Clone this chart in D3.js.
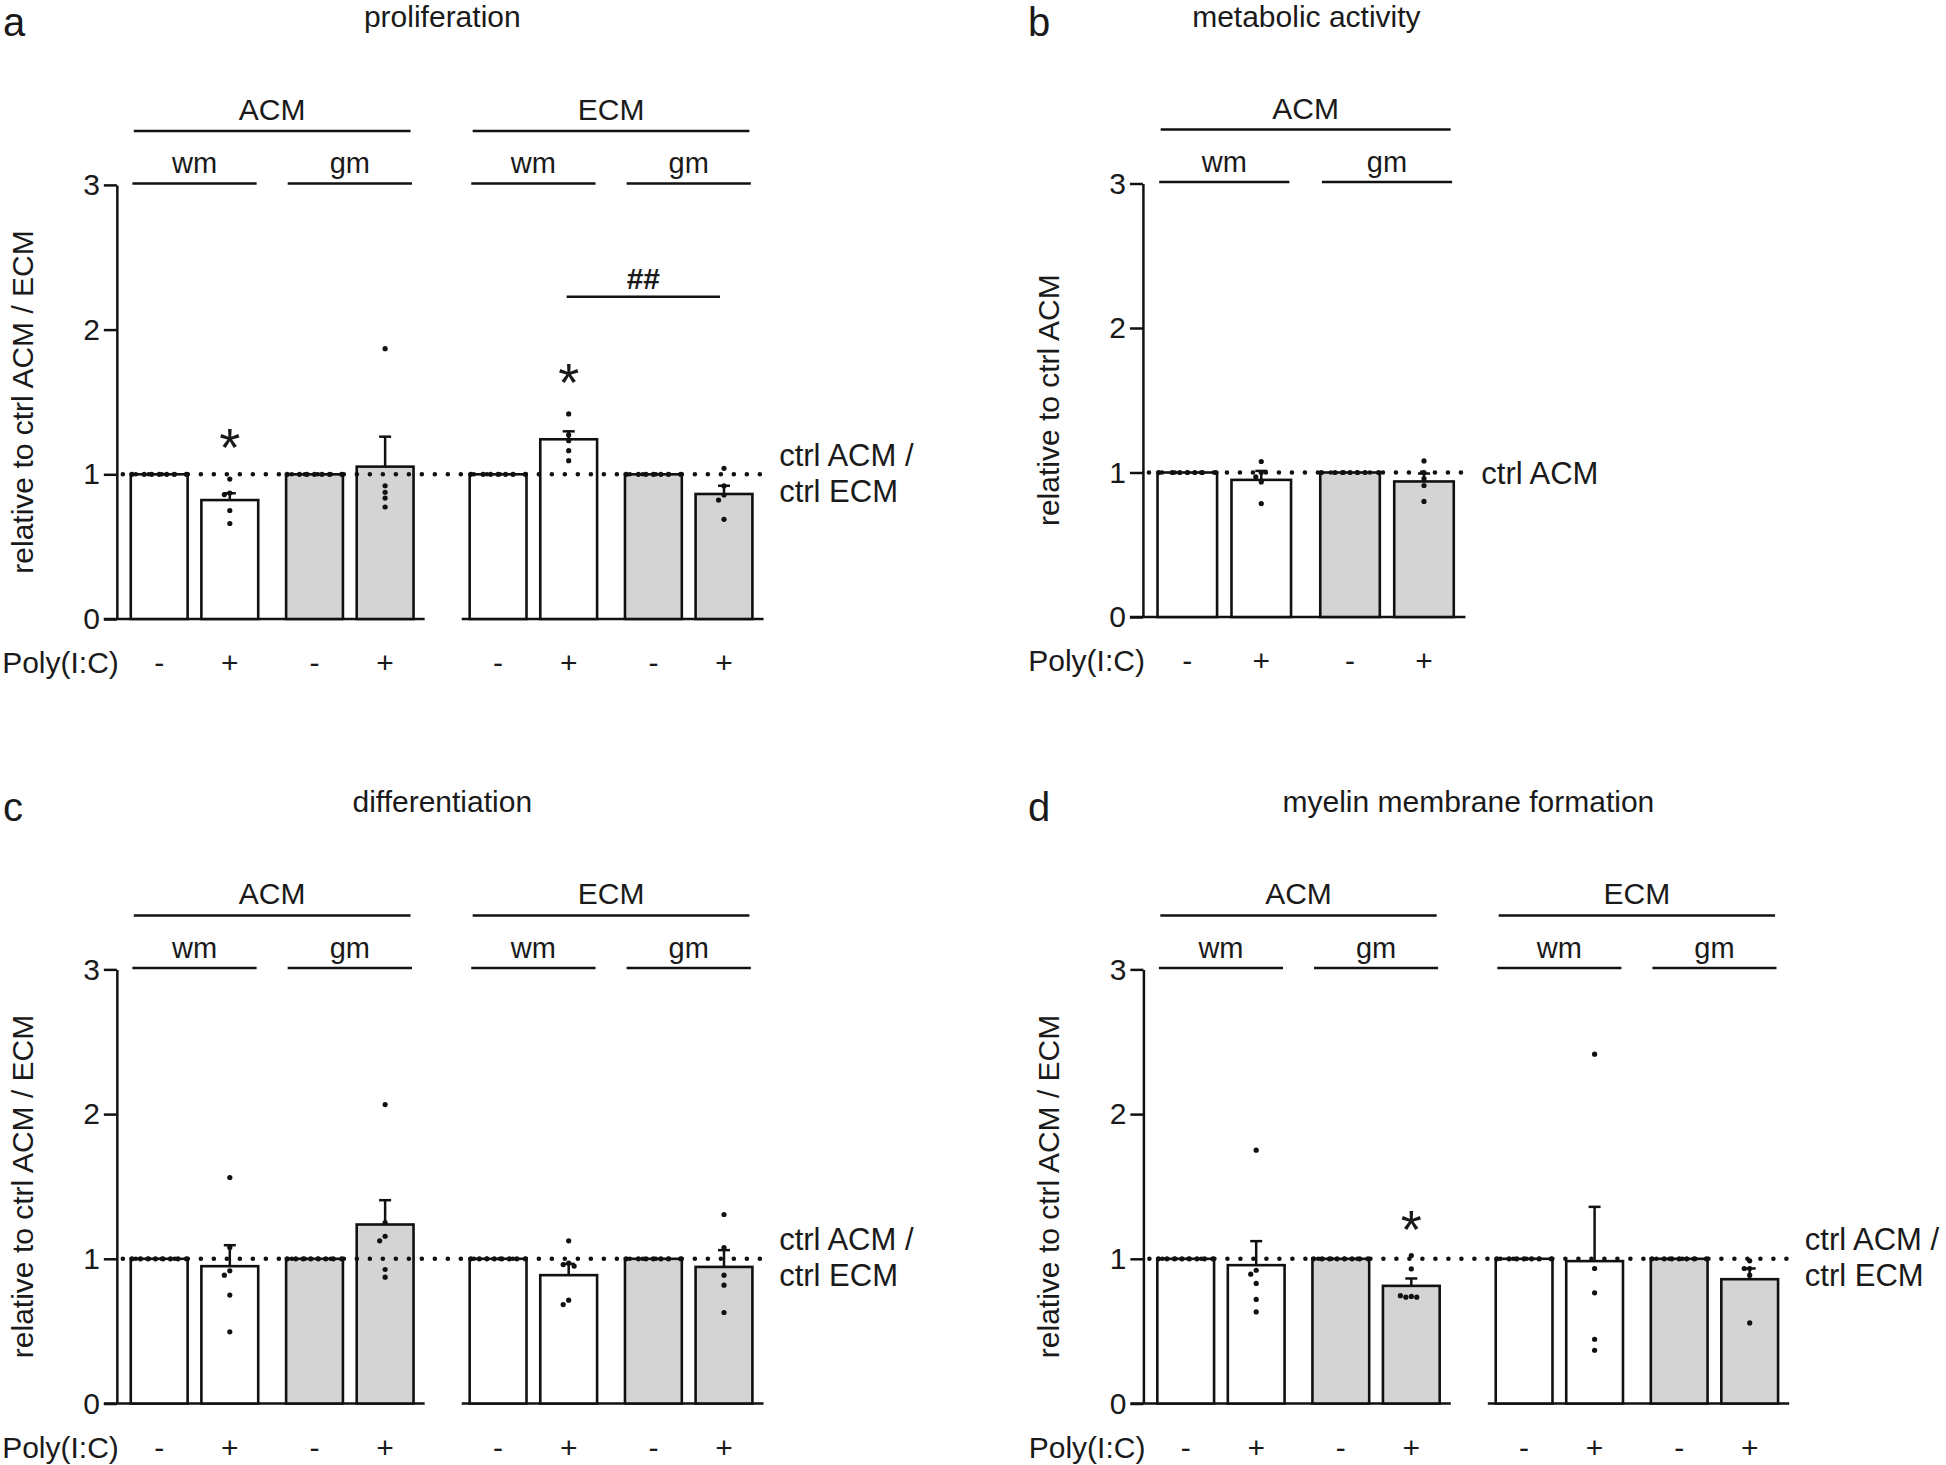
<!DOCTYPE html>
<html><head><meta charset="utf-8">
<script src="https://cdn.jsdelivr.net/npm/d3@7"></script>
<style>
body{margin:0;background:#fff}
svg{display:block}
text{font-family:"Liberation Sans",Arial,Helvetica,sans-serif;fill:#1a1a1a}
</style>
</head><body>
<svg id="chart" width="1946" height="1465"></svg>
<script>
// ---------------- data ----------------
const slots = [0, 1, 2.2, 3.2, 4.8, 5.8, 7.0, 8.0];
const mediumNames = ["ACM", "ECM"];
const regionNames = ["wm", "gm"];
const polyLabels = ["-", "+", "-", "+", "-", "+", "-", "+"];
const yTicks = [0, 1, 2, 3];
const panelLetters = ["a", "b", "c", "d"];
const panelTitles = ["proliferation", "metabolic activity", "differentiation", "myelin membrane formation"];
const yLabels = ["relative to ctrl ACM / ECM", "relative to ctrl ACM", "relative to ctrl ACM / ECM", "relative to ctrl ACM / ECM"];
const ctrlLabelsTwo = ["ctrl ACM /", "ctrl ECM"];
const ctrlLabelsOne = ["ctrl ACM"];

// panel a: proliferation
const aMean = [1, 0.822, 1, 1.053, 1, 1.242, 1, 0.864];
const aSem  = [0, 0.047, 0, 0.207, 0, 0.055, 0, 0.057];
const aPts  = [
  [1, 1, 1, 1, 1], [0.967, 0.87, 0.86, 0.75, 0.66],
  [1, 1, 1, 1, 1], [1.868, 0.921, 0.876, 0.836, 0.774],
  [1, 1, 1, 1, 1], [1.417, 1.272, 1.232, 1.163, 1.094],
  [1, 1, 1, 1, 1], [1.041, 0.92, 0.857, 0.822, 0.689]
];
const aStars = [{bar: 1, v: 1.272, t: "*"}, {bar: 5, v: 1.72, t: "*"}];
const aBrackets = [{from: 5, to: 7, v: 2.227, t: "##"}];

// panel b: metabolic activity
const bMean = [1, 0.949, 1, 0.938];
const bSem  = [0, 0.062, 0, 0.055];
const bPts  = [
  [1, 1, 1, 1, 1], [1.076, 1.0, 0.97, 0.935, 0.785],
  [1, 1, 1, 1, 1], [1.08, 1.0, 0.958, 0.91, 0.80]
];

// panel c: differentiation
const cMean = [1, 0.949, 1, 1.237, 1, 0.887, 1, 0.944];
const cSem  = [0, 0.145, 0, 0.168, 0, 0.078, 0, 0.116];
const cPts  = [
  [1, 1, 1, 1, 1, 1], [1.562, 1.078, 0.917, 0.887, 0.749, 0.495],
  [1, 1, 1, 1, 1, 1], [2.066, 1.251, 1.156, 1.124, 0.926, 0.873],
  [1, 1, 1, 1, 1, 1], [1.124, 0.97, 0.96, 0.95, 0.714, 0.684],
  [1, 1, 1, 1, 1], [1.306, 1.078, 0.887, 0.818, 0.629]
];

// panel d: myelin membrane formation
const dMean = [1, 0.956, 1, 0.813, 1, 0.984, 1, 0.859];
const dSem  = [0, 0.166, 0, 0.051, 0, 0.375, 0, 0.074];
const dPts  = [
  [1, 1, 1, 1, 1, 1], [1.751, 0.921, 0.894, 0.83, 0.719, 0.633],
  [1, 1, 1, 1, 1, 1], [1.022, 0.93, 0.74, 0.735, 0.735, 0.745],
  [1, 1, 1, 1, 1], [2.414, 0.933, 0.765, 0.444, 0.368],
  [1, 1, 1, 1, 1], [0.986, 0.933, 0.933, 0.887, 0.557]
];
const dStars = [{bar: 3, v: 1.29, t: "*"}];

// ---------------- layout ----------------
const svg = d3.select("#chart");
const INK = "#111";
const GRAY = "#d4d4d4";

const panels = [
  {i: 0, mean: aMean, sem: aSem, pts: aPts, stars: aStars, brackets: aBrackets,
   xDom: [0, 8], xRange: [159.2, 724], yRange: [619, 184.9], letterX: 3, top: 0, nGroups: 2},
  {i: 1, mean: bMean, sem: bSem, pts: bPts, stars: [], brackets: [],
   xDom: [0, 3.2], xRange: [1187.3, 1424], yRange: [617, 183.5], letterX: 1028, top: 0, nGroups: 1},
  {i: 2, mean: cMean, sem: cSem, pts: cPts, stars: [], brackets: [],
   xDom: [0, 8], xRange: [159.2, 724], yRange: [1403.5, 969.4], letterX: 3, top: 785, nGroups: 2},
  {i: 3, mean: dMean, sem: dSem, pts: dPts, stars: dStars, brackets: [],
   xDom: [0, 8], xRange: [1185.7, 1749.7], yRange: [1403.5, 969.4], letterX: 1028, top: 785, nGroups: 2}
];

function swarm(vals, y, r) {
  const placed = [];
  const step = r * 2.1;
  return vals.map(v => {
    const py = y(v);
    let off = 0;
    for (let k = 0; k < 40; k++) {
      const cand = k === 0 ? 0 : (k % 2 ? -1 : 1) * Math.ceil(k / 2) * step;
      const hit = placed.some(p => Math.hypot(p.dx - cand, p.py - py) < 2 * r * 0.98);
      if (!hit) { off = cand; break; }
    }
    placed.push({dx: off, py});
    return {dx: off, py};
  });
}

panels.forEach(P => {
  const g = svg.append("g");
  const x = d3.scaleLinear().domain(P.xDom).range(P.xRange);
  const y = d3.scaleLinear().domain([0, 3]).range(P.yRange);
  const unit = x(1) - x(0);
  const bw = unit * 0.805;
  const nBars = P.mean.length;
  const barSlots = slots.slice(0, nBars);
  const axisX = x(-0.6);
  const y0 = y(0), y3 = y(3);

  // panel letter + title
  g.append("text").attr("x", P.letterX).attr("y", P.top + 36)
    .attr("font-size", 40).text(panelLetters[P.i]);
  const spanEnd = x(barSlots[nBars - 1] + 0.62);
  g.append("text").attr("x", (axisX + spanEnd) / 2).attr("y", P.top + 27)
    .attr("text-anchor", "middle").attr("font-size", 30).text(panelTitles[P.i]);

  // group and region headers
  for (let gi = 0; gi < P.nGroups; gi++) {
    const s0 = barSlots[gi * 4], s3 = barSlots[gi * 4 + 3];
    const gx0 = x(s0) - 0.36 * unit, gx1 = x(s3) + 0.36 * unit;
    const gy = y3 - 54;
    g.append("line").attr("x1", gx0).attr("x2", gx1).attr("y1", gy).attr("y2", gy)
      .attr("stroke", INK).attr("stroke-width", 2.5);
    g.append("text").attr("x", (gx0 + gx1) / 2).attr("y", gy - 11)
      .attr("text-anchor", "middle").attr("font-size", 30).text(mediumNames[gi]);
    for (let ri = 0; ri < 2; ri++) {
      const a = barSlots[gi * 4 + ri * 2], b = barSlots[gi * 4 + ri * 2 + 1];
      const rx0 = x(a) - 0.38 * unit, rx1 = x(b) + 0.38 * unit;
      const ry = y3 - 1.5;
      g.append("line").attr("x1", rx0).attr("x2", rx1).attr("y1", ry).attr("y2", ry)
        .attr("stroke", INK).attr("stroke-width", 2.5);
      g.append("text").attr("x", (rx0 + rx1) / 2).attr("y", ry - 10)
        .attr("text-anchor", "middle").attr("font-size", 29).text(regionNames[ri]);
    }
  }

  // y axis
  const yAxis = d3.axisLeft(y).tickValues(yTicks).tickFormat(d3.format("d"))
    .tickSize(13).tickSizeOuter(0).tickPadding(4);
  const ag = g.append("g").attr("transform", `translate(${axisX},0)`).call(yAxis);
  ag.select(".domain").attr("stroke", INK).attr("stroke-width", 2.5);
  ag.selectAll(".tick line").attr("stroke", INK).attr("stroke-width", 2.5);
  ag.selectAll(".tick text").attr("font-size", 30).attr("fill", "#1a1a1a")
    .attr("font-family", '"Liberation Sans",Arial,sans-serif');

  // y label
  g.append("text").attr("transform", `translate(${axisX - 84},${y(1.5)}) rotate(-90)`)
    .attr("text-anchor", "middle").attr("font-size", 30).text(yLabels[P.i]);

  // x axis segments
  for (let gi = 0; gi < P.nGroups; gi++) {
    const s0 = barSlots[gi * 4], s3 = barSlots[gi * 4 + 3];
    const xs = gi === 0 ? axisX : x(s0) - 0.515 * unit;
    const xe = x(s3) + 0.56 * unit;
    g.append("line").attr("x1", xs - (gi === 0 ? 13 : 0)).attr("x2", xe)
      .attr("y1", y0).attr("y2", y0).attr("stroke", INK).attr("stroke-width", 2.5);
  }

  // bars
  g.selectAll("rect.bar").data(P.mean).join("rect")
    .attr("x", (d, i) => x(barSlots[i]) - bw / 2)
    .attr("y", d => y(d))
    .attr("width", bw)
    .attr("height", d => y0 - y(d))
    .attr("fill", (d, i) => (Math.floor(i / 2) % 2 === 1 ? GRAY : "#fff"))
    .attr("stroke", INK).attr("stroke-width", 2.6);

  // error bars (upper only)
  P.mean.forEach((m, i) => {
    if (!P.sem[i]) return;
    const cx = x(barSlots[i]);
    g.append("line").attr("x1", cx).attr("x2", cx).attr("y1", y(m)).attr("y2", y(m + P.sem[i]))
      .attr("stroke", INK).attr("stroke-width", 2.5);
    g.append("line").attr("x1", cx - 6).attr("x2", cx + 6)
      .attr("y1", y(m + P.sem[i])).attr("y2", y(m + P.sem[i]))
      .attr("stroke", INK).attr("stroke-width", 2.5);
  });

  // dotted reference line at 1
  const lastEnd = x(barSlots[nBars - 1]) + 0.6 * unit;
  g.append("line").attr("x1", axisX + 6).attr("x2", lastEnd)
    .attr("y1", y(1)).attr("y2", y(1))
    .attr("stroke", INK).attr("stroke-width", 4.6)
    .attr("stroke-linecap", "round").attr("stroke-dasharray", "0 13");

  // individual points
  const r = 2.6;
  P.pts.forEach((vals, i) => {
    const cx = x(barSlots[i]);
    const isCtrl = i % 2 === 0;
    let pos;
    if (isCtrl) {
      const n = vals.length;
      pos = vals.map((v, k) => ({dx: (k - (n - 1) / 2) * 7.5, py: y(v)}));
    } else {
      pos = swarm(vals, y, r);
    }
    pos.forEach(p => {
      g.append("circle").attr("cx", cx + p.dx).attr("cy", p.py).attr("r", r).attr("fill", INK);
    });
    if (isCtrl) {
      [-0.48, 0.48].forEach(f => g.append("circle").attr("cx", cx + f * bw).attr("cy", y(1)).attr("r", r).attr("fill", INK));
    }
  });

  // significance marks
  P.stars.forEach(s => {
    g.append("text").attr("x", x(barSlots[s.bar])).attr("y", y(s.v) + 31)
      .attr("text-anchor", "middle").attr("font-size", 54).text(s.t);
  });
  P.brackets.forEach(b => {
    const x1 = x(barSlots[b.from]) - 2, x2 = x(barSlots[b.to]) - 4;
    g.append("line").attr("x1", x1).attr("x2", x2).attr("y1", y(b.v)).attr("y2", y(b.v))
      .attr("stroke", INK).attr("stroke-width", 2.5);
    g.append("text").attr("x", (x1 + x2) / 2).attr("y", y(b.v) - 8)
      .attr("text-anchor", "middle").attr("font-size", 30).attr("font-weight", "bold").text(b.t);
  });

  // Poly(I:C) row
  g.append("text").attr("x", axisX + 2).attr("y", y0 + 54)
    .attr("text-anchor", "end").attr("font-size", 30).text("Poly(I:C)");
  g.selectAll("text.poly").data(polyLabels.slice(0, nBars)).join("text")
    .attr("x", (d, i) => x(barSlots[i])).attr("y", y0 + 54)
    .attr("text-anchor", "middle").attr("font-size", 30).text(d => d);

  // ctrl label
  const labels = P.i === 1 ? ctrlLabelsOne : ctrlLabelsTwo;
  const lx = x(barSlots[nBars - 1]) + 0.64 * unit + 10;
  labels.forEach((t, k) => {
    const ly = labels.length === 1 ? y(1) + 11 : y(1) - 8.6 + k * 36;
    g.append("text").attr("x", lx).attr("y", ly).attr("font-size", 31).text(t);
  });
});
</script>
</body></html>
